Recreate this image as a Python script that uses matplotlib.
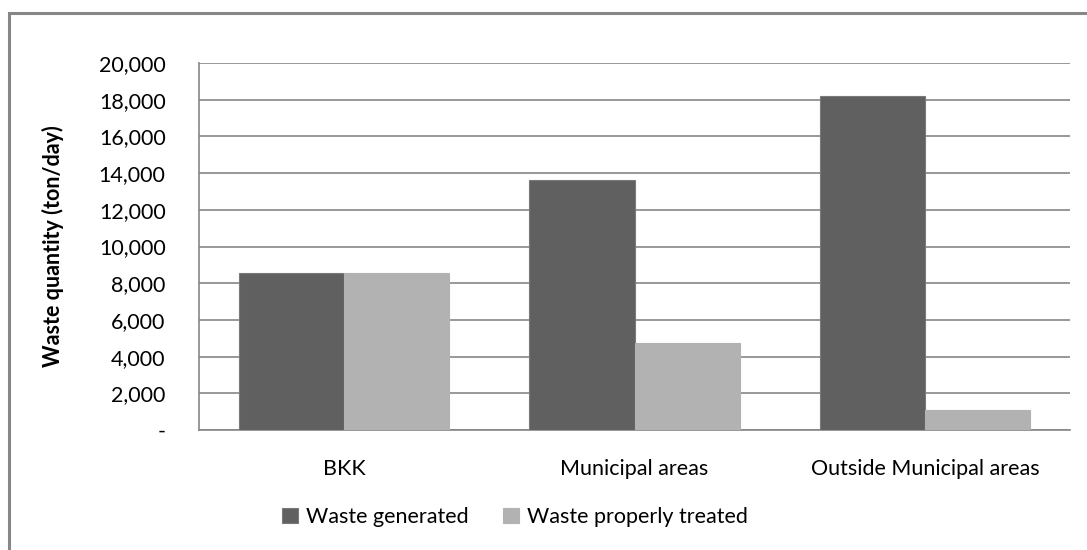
import matplotlib
matplotlib.use("Agg")
import matplotlib.pyplot as plt
from matplotlib.patches import Rectangle
from matplotlib.ticker import FuncFormatter
import numpy as np

plt.rcParams['font.family'] = ['Lato', 'DejaVu Sans']

categories = ["BKK", "Municipal areas", "Outside Municipal areas"]
generated = [8550, 13600, 18200]
treated = [8550, 4750, 1100]
series_names = ["Waste generated", "Waste properly treated"]
yticks = [0, 2000, 4000, 6000, 8000, 10000, 12000, 14000, 16000, 18000, 20000]

W, H = 1087, 550
fig = plt.figure(figsize=(W / 100, H / 100), dpi=100)
ax = fig.add_axes([199 / W, 1 - 430 / H, (1070 - 199) / W, (430 - 63) / H])

# outer chart frame (right and bottom run off the image)
fig.patches.append(Rectangle((9 / W, -0.05), 1.1, 1 - 13 / H + 0.05,
                             transform=fig.transFigure, fill=False,
                             edgecolor="#878787", linewidth=2.2, zorder=0))

x = np.arange(len(categories))
bw = 105 / 290
ax.bar(x - bw / 2, generated, bw, color="#606060", edgecolor="#7a7a7a",
       linewidth=0.8, label=series_names[0], zorder=3)
ax.bar(x + bw / 2, treated, bw, color="#b2b2b2", edgecolor="#b2b2b2",
       linewidth=0.8, label=series_names[1], zorder=3)

fs = 15.5
ax.set_xlim(-0.5, 2.5)
ax.set_ylim(0, 20000)
ax.set_yticks(yticks)
ax.yaxis.set_major_formatter(FuncFormatter(lambda v, p: "-" if v == 0 else f"{int(v):,}"))
ax.grid(axis="y", color="#868686", linewidth=1.2, zorder=0)
ax.set_xticks(x)
ax.set_xticklabels(categories)
ax.tick_params(axis="both", length=0, labelsize=fs, colors="black")
ax.tick_params(axis="y", pad=24)
ax.tick_params(axis="x", pad=21)
for s in ["top", "right"]:
    ax.spines[s].set_visible(False)
for s in ["left", "bottom"]:
    ax.spines[s].set_color("#868686")
    ax.spines[s].set_linewidth(1.2)
ax.set_ylabel("Waste quantity (ton/day)", fontsize=fs, fontweight="bold")
ax.yaxis.set_label_coords(-135 / (1070 - 199), 0.5)

leg = fig.legend(loc="center", bbox_to_anchor=(515 / W, 1 - 517 / H), ncol=2,
                 frameon=False, fontsize=fs, handlelength=0.75, handleheight=0.75,
                 handletextpad=0.35, columnspacing=1.6)

fig.savefig("out.png", dpi=100)
